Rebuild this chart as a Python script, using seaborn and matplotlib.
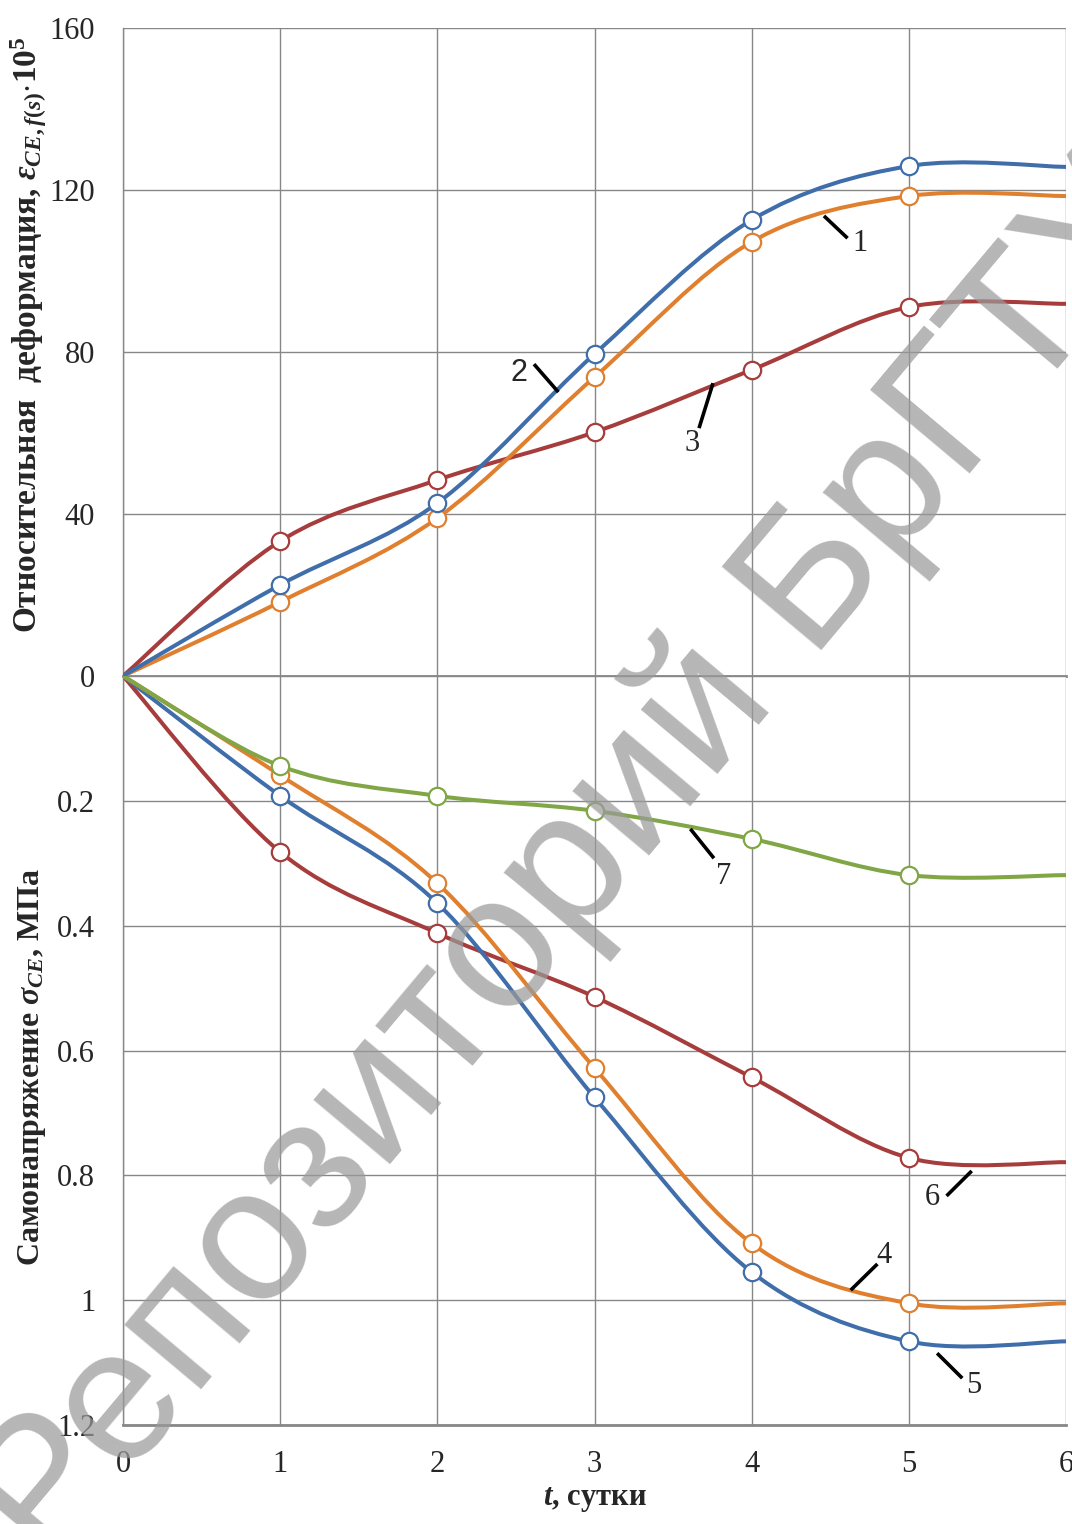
import numpy as np
import pandas as pd
import matplotlib
matplotlib.use("Agg")
import matplotlib.pyplot as plt
from matplotlib.path import Path
from matplotlib.patches import PathPatch
import seaborn as sns

# data
days = [0, 1, 2, 3, 4, 5, 6]
eps_1 = [0, 18.3, 39.0, 73.8, 107.2, 118.5, 118.5]   # orange
eps_2 = [0, 22.5, 42.7, 79.5, 112.6, 125.9, 125.7]   # blue
eps_3 = [0, 33.3, 48.4, 60.2, 75.6, 91.1, 91.9]      # red
sig_4 = [0, 0.159, 0.332, 0.628, 0.909, 1.005, 1.005]  # orange
sig_5 = [0, 0.192, 0.364, 0.675, 0.955, 1.066, 1.066]  # blue
sig_6 = [0, 0.282, 0.412, 0.514, 0.643, 0.772, 0.779]  # red
sig_7 = [0, 0.144, 0.192, 0.216, 0.261, 0.319, 0.319]  # green

top_ticks = [0, 40, 80, 120, 160]
bot_ticks = [0, 0.2, 0.4, 0.6, 0.8, 1.0, 1.2]
bot_ticklabels = ["0", "0.2", "0.4", "0.6", "0.8", "1", "1.2"]

BLUE = "#3f6eab"
ORANGE = "#e0802f"
RED = "#a63d3c"
GREEN = "#80a646"
GRID = "#878787"

sns.set_style("white")
plt.rcParams["font.family"] = ["Liberation Serif", "DejaVu Serif"]
plt.rcParams["mathtext.fontset"] = "custom"
plt.rcParams["mathtext.rm"] = "Liberation Serif:bold"
plt.rcParams["mathtext.it"] = "Liberation Serif:italic:bold"
plt.rcParams["mathtext.bf"] = "Liberation Serif:bold"


def smooth_path(x, y):
    # excel-like smoothed line as cubic bezier segments through the points
    pts = np.column_stack([x, y]).astype(float)
    verts = [pts[0]]
    codes = [Path.MOVETO]
    n = len(pts)
    for i in range(n - 1):
        p0 = pts[i - 1] if i > 0 else pts[i]
        p1 = pts[i]
        p2 = pts[i + 1]
        p3 = pts[i + 2] if i + 2 < n else pts[i + 1]
        verts += [p1 + (p2 - p0) / 6, p2 - (p3 - p1) / 6, p2]
        codes += [Path.CURVE4] * 3
    return Path(verts, codes)


def draw_series(ax, y, color):
    ax.add_patch(PathPatch(smooth_path(days, y), facecolor="none", edgecolor=color,
                           lw=2.9, zorder=3, capstyle="round"))
    df = pd.DataFrame({"day": days, "val": y})
    df = df[(df.day >= 1) & (df.day <= 5)]
    sns.lineplot(data=df, x="day", y="val", ax=ax, color=color, linestyle="",
                 marker="o", markersize=12.5, mfc="white", mec=color, mew=1.6,
                 zorder=4, legend=False)


fig = plt.figure(figsize=(10.72, 15.24), dpi=100)
ax_top = fig.add_axes([123 / 1072, 1 - 676 / 1524, 943 / 1072, 648 / 1524])
ax_bot = fig.add_axes([123 / 1072, 1 - 1425 / 1524, 943 / 1072, 749 / 1524])

for y, c in [(eps_3, RED), (eps_1, ORANGE), (eps_2, BLUE)]:
    draw_series(ax_top, y, c)
for y, c in [(sig_6, RED), (sig_5, BLUE), (sig_4, ORANGE), (sig_7, GREEN)]:
    draw_series(ax_bot, y, c)

for ax in (ax_top, ax_bot):
    ax.set_xlim(0, 6)
    ax.set_xticks(days)
    ax.grid(True, color=GRID, lw=1.0)
    ax.set_axisbelow(True)
    ax.set_xlabel("")
    ax.set_ylabel("")
    for s in ("top", "right"):
        ax.spines[s].set_visible(False)
    ax.spines["left"].set_color(GRID)
    ax.spines["left"].set_linewidth(1.0)
    ax.spines["bottom"].set_color(GRID)
    ax.spines["bottom"].set_linewidth(2.0)
    ax.tick_params(axis="y", direction="out", length=8, width=1.2, color=GRID,
                   labelsize=22, pad=12)
    ax.tick_params(axis="x", direction="out", length=8, width=1.2, color=GRID,
                   labelsize=22, pad=10)

ax_top.set_ylim(0, 160)
ax_top.set_yticks(top_ticks)
ax_top.tick_params(axis="x", length=0, labelbottom=False)

ax_bot.set_ylim(1.2, 0)
ax_bot.set_yticks(bot_ticks)
ax_bot.set_yticklabels(bot_ticklabels)
ax_bot.get_yticklabels()[0].set_visible(False)

ax_top.set_ylabel("Относительная  деформация, $ε_{CE,f(s)}$$\\cdot$10$^5$",
                  fontsize=24, fontweight="bold")
ax_top.yaxis.set_label_coords(-0.08, 0.526)
ax_bot.set_ylabel("Самонапряжение $σ_{CE}$, МПа", fontsize=23, fontweight="bold")
ax_bot.yaxis.set_label_coords(-0.08, 0.478)
ax_bot.set_xlabel("$t$, сутки", fontsize=22, fontweight="bold", labelpad=4)

# curve numbers with leader lines
top_labels = [("1", 4.69, 106.9, (4.46, 4.61), (113.6, 108.1)),
              ("2", 2.52, 74.8, (2.615, 2.77), (77.0, 70.1)),
              ("3", 3.62, 57.5, (3.754, 3.665), (72.3, 61.2))]
bot_labels = [("7", 3.82, 0.322, (3.61, 3.76), (0.245, 0.292)),
              ("6", 5.15, 0.836, (5.24, 5.40), (0.833, 0.793)),
              ("4", 4.84, 0.928, (4.63, 4.80), (0.984, 0.942)),
              ("5", 5.41, 1.137, (5.18, 5.34), (1.085, 1.125))]
for ax, labels in [(ax_top, top_labels), (ax_bot, bot_labels)]:
    for txt, tx, ty, lx, ly in labels:
        ax.plot(lx, ly, color="black", lw=2.6, zorder=5, solid_capstyle="butt")
        fam = ["Liberation Sans"] if txt == "2" else ["Liberation Serif"]
        ax.text(tx, ty, txt, fontsize=22, family=fam, ha="center", va="center",
                zorder=5)

# watermark
fig.text(575 / 1072, 1 - 865 / 1524, "Репозиторий БрГТУ", family=["Liberation Sans"],
         fontsize=137, color="#9a9a9a", alpha=0.72, rotation=50,
         rotation_mode="anchor", ha="center", va="center", zorder=10)

fig.savefig("out.png", dpi=100)
